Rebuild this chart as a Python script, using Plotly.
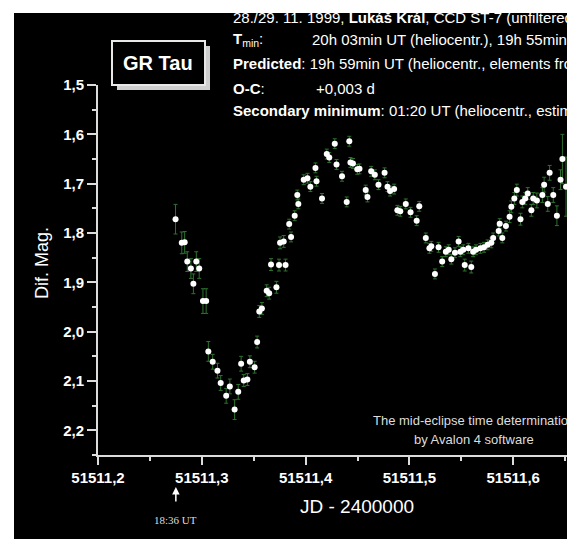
import plotly.graph_objects as go

# ---------------- data ----------------
jd = [51511.2747, 51511.2807, 51511.2835, 51511.2860, 51511.2895, 51511.2919, 51511.2947, 51511.2975, 51511.3011, 51511.3042,
      51511.3063, 51511.3105, 51511.3151, 51511.3182, 51511.3235, 51511.3270, 51511.3316, 51511.3351, 51511.3379, 51511.3404,
      51511.3439, 51511.3463, 51511.3509, 51511.3533, 51511.3554, 51511.3579, 51511.3625, 51511.3649, 51511.3667, 51511.3719,
      51511.3744, 51511.3754, 51511.3789, 51511.3807, 51511.3842, 51511.3860, 51511.3895, 51511.3920, 51511.3930, 51511.3982,
      51511.4018, 51511.4046, 51511.4095, 51511.4105, 51511.4158, 51511.4204, 51511.4228, 51511.4281, 51511.4298, 51511.4351,
      51511.4396, 51511.4421, 51511.4432, 51511.4456, 51511.4498, 51511.4519, 51511.4579, 51511.4596, 51511.4632, 51511.4667,
      51511.4702, 51511.4761, 51511.4789, 51511.4814, 51511.4853, 51511.4884, 51511.4912, 51511.4965, 51511.5011, 51511.5070,
      51511.5095, 51511.5158, 51511.5193, 51511.5211, 51511.5246, 51511.5281, 51511.5316, 51511.5351, 51511.5379, 51511.5404,
      51511.5439, 51511.5474, 51511.5491, 51511.5519, 51511.5533, 51511.5568, 51511.5596, 51511.5614, 51511.5642, 51511.5684,
      51511.5719, 51511.5754, 51511.5789, 51511.5807, 51511.5860, 51511.5870, 51511.5895, 51511.5930, 51511.5965, 51511.5982,
      51511.6011, 51511.6035, 51511.6070, 51511.6088, 51511.6116, 51511.6140, 51511.6175, 51511.6193, 51511.6228, 51511.6281,
      51511.6298, 51511.6333, 51511.6351, 51511.6386, 51511.6421, 51511.6456, 51511.6474, 51511.6509]

mag = [1.772, 1.820, 1.819, 1.858, 1.872, 1.903, 1.858, 1.872, 1.938, 1.938,
       2.040, 2.061, 2.079, 2.104, 2.130, 2.111, 2.158, 2.122, 2.065, 2.099,
       2.097, 2.061, 2.072, 2.021, 1.959, 1.953, 1.917, 1.922, 1.864, 1.910,
       1.865, 1.820, 1.817, 1.865, 1.782, 1.808, 1.765, 1.723, 1.741, 1.692,
       1.689, 1.706, 1.668, 1.695, 1.730, 1.640, 1.647, 1.619, 1.661, 1.685,
       1.737, 1.614, 1.657, 1.659, 1.671, 1.670, 1.713, 1.727, 1.675, 1.682,
       1.702, 1.678, 1.706, 1.715, 1.711, 1.754, 1.756, 1.741, 1.758, 1.775,
       1.746, 1.810, 1.831, 1.827, 1.883, 1.829, 1.858, 1.838, 1.834, 1.853,
       1.840, 1.817, 1.838, 1.834, 1.865, 1.831, 1.869, 1.838, 1.834, 1.831,
       1.829, 1.824, 1.820, 1.810, 1.796, 1.781, 1.810, 1.786, 1.767, 1.747,
       1.730, 1.713, 1.772, 1.737, 1.730, 1.720, 1.754, 1.730, 1.734, 1.723,
       1.702, 1.741, 1.678, 1.723, 1.765, 1.692, 1.650, 1.706]

err = [0.030, 0.022, 0.022, 0.020, 0.020, 0.020, 0.020, 0.020, 0.025, 0.025,
       0.020, 0.015, 0.015, 0.015, 0.015, 0.015, 0.020, 0.015, 0.015, 0.012,
       0.012, 0.012, 0.012, 0.012, 0.012, 0.012, 0.012, 0.012, 0.012, 0.012,
       0.012, 0.012, 0.012, 0.012, 0.010, 0.010, 0.010, 0.010, 0.010, 0.010,
       0.010, 0.010, 0.010, 0.010, 0.010, 0.010, 0.010, 0.010, 0.010, 0.010,
       0.010, 0.010, 0.010, 0.010, 0.010, 0.010, 0.010, 0.010, 0.010, 0.010,
       0.010, 0.010, 0.010, 0.010, 0.010, 0.010, 0.010, 0.010, 0.010, 0.010,
       0.010, 0.010, 0.010, 0.010, 0.010, 0.010, 0.010, 0.010, 0.010, 0.010,
       0.010, 0.010, 0.010, 0.010, 0.012, 0.010, 0.012, 0.010, 0.010, 0.010,
       0.010, 0.010, 0.010, 0.010, 0.010, 0.010, 0.010, 0.010, 0.012, 0.012,
       0.012, 0.012, 0.012, 0.012, 0.012, 0.012, 0.012, 0.012, 0.015, 0.015,
       0.015, 0.015, 0.015, 0.015, 0.020, 0.020, 0.050, 0.060]

x_tickvals = [51511.2, 51511.3, 51511.4, 51511.5, 51511.6]
x_ticktext = ["51511,2", "51511,3", "51511,4", "51511,5", "51511,6"]
y_tickvals = [1.5, 1.6, 1.7, 1.8, 1.9, 2.0, 2.1, 2.2]
y_ticktext = ["1,5", "1,6", "1,7", "1,8", "1,9", "2,0", "2,1", "2,2"]
first_obs_jd = 51511.275

# ---------------- layout geometry (pixels) ----------------
W, H = 567, 539
L, R, T, B = 98, 0, 85, 84
PW, PH = W - L - R, H - T - B


def px(x):
    return (x - L) / PW


def py(y):
    return (H - B - y) / PH


AX = "#dcdcdc"
FONT = "Liberation Sans, Arial, sans-serif"

fig = go.Figure()
fig.add_trace(go.Scatter(
    x=jd, y=mag, mode="markers",
    error_y=dict(type="data", array=err, visible=True, color="#2e722e", thickness=1, width=2),
    marker=dict(symbol="circle", size=6, color="#ffffff", line=dict(width=0)),
    hoverinfo="skip", showlegend=False,
))

shapes = [
    # black panel
    dict(type="rect", xref="paper", yref="paper", x0=px(14), x1=px(600), y0=py(560), y1=py(13),
         fillcolor="#000000", line=dict(width=0), layer="below"),
    # GR Tau shadow
    dict(type="rect", xref="paper", yref="paper", x0=px(117), x1=px(210), y0=py(90), y1=py(46),
         fillcolor="#cfcfcf", line=dict(width=0), layer="above"),
    # GR Tau box
    dict(type="rect", xref="paper", yref="paper", x0=px(112), x1=px(205), y0=py(85), y1=py(41),
         fillcolor="#000000", line=dict(width=2, color="#e8e8e8"), layer="above"),
]

TXT = 15
ann = []


def label(x, y, text, size=TXT, anchor="left", color="#ffffff", family=FONT, weight="normal"):
    ann.append(dict(xref="paper", yref="paper", x=px(x), y=py(y), text=text, showarrow=False,
                    xanchor=anchor, yanchor="middle",
                    font=dict(family=family, size=size, color=color, weight=weight)))


label(158, 63, "GR Tau", size=20, anchor="center", weight="bold")

TX = 231
VX = 310
label(TX, 17, "28./29. 11. 1999, <b>Lukáš Král</b>, CCD ST-7 (unfiltered)")
label(TX, 40, "<b>T</b><sub>min</sub>:")
label(VX, 40, "20h 03min UT (heliocentr.), 19h 55min in R")
label(TX, 64, "<b>Predicted</b>: 19h 59min UT (heliocentr., elements from GCVS)")
label(TX, 88, "<b>O-C</b>:")
label(VX + 4, 88, "+0,003 d")
label(TX, 111, "<b>Secondary minimum</b>: 01:20 UT (heliocentr., estimated)")

label(474, 420, "The mid-eclipse time determination", size=13, anchor="center", color="#dddddd")
label(474, 439, "by Avalon 4 software", size=13, anchor="center", color="#dddddd")

label(357, 507, "JD - 2400000", size=19, anchor="center")
ann.append(dict(xref="paper", yref="paper", x=px(42), y=py(263), text="Dif. Mag.", showarrow=False,
                textangle=-90, xanchor="center", yanchor="middle",
                font=dict(family=FONT, size=18, color="#ffffff")))

# arrow marking first observation time
ann.append(dict(xref="x", yref="paper", x=first_obs_jd, y=py(487), ax=0, ay=16, text="",
                showarrow=True, arrowhead=2, arrowsize=1, arrowwidth=1.5, arrowcolor="#ffffff"))
ann.append(dict(xref="x", yref="paper", x=first_obs_jd, y=py(520), text="18:36 UT", showarrow=False,
                xanchor="center", yanchor="middle",
                font=dict(family="Liberation Serif, Times New Roman, serif", size=11, color="#dddddd")))

fig.update_layout(
    width=W, height=H,
    margin=dict(l=L, r=R, t=T, b=B, pad=0),
    paper_bgcolor="#ffffff", plot_bgcolor="#000000",
    shapes=shapes, annotations=ann,
    showlegend=False,
    font=dict(family=FONT, color="#ffffff"),
)

fig.update_xaxes(
    range=[51511.2, 51511.2 + PW / 1038.0], showgrid=False, zeroline=False,
    showline=True, linecolor=AX, linewidth=2,
    ticks="outside", ticklen=8, tickwidth=2, tickcolor=AX,
    tickvals=x_tickvals, ticktext=x_ticktext,
    tickfont=dict(family=FONT, size=15, color="#ffffff", weight="bold"),
    minor=dict(dtick=0.05, tick0=51511.2, ticks="outside", ticklen=4, tickwidth=2, tickcolor=AX, showgrid=False),
)
fig.update_yaxes(
    range=[2.25, 1.5], showgrid=False, zeroline=False,
    showline=True, linecolor=AX, linewidth=2,
    ticks="outside", ticklen=9, tickwidth=2, tickcolor=AX,
    tickvals=y_tickvals, ticktext=y_ticktext,
    tickfont=dict(family=FONT, size=15, color="#ffffff", weight="bold"),
    minor=dict(dtick=0.05, tick0=1.5, ticks="outside", ticklen=4, tickwidth=2, tickcolor=AX, showgrid=False),
)

fig.write_html("out.html", config={"displayModeBar": False},
               post_script="document.body.style.margin='0';document.body.style.overflow='hidden';")
